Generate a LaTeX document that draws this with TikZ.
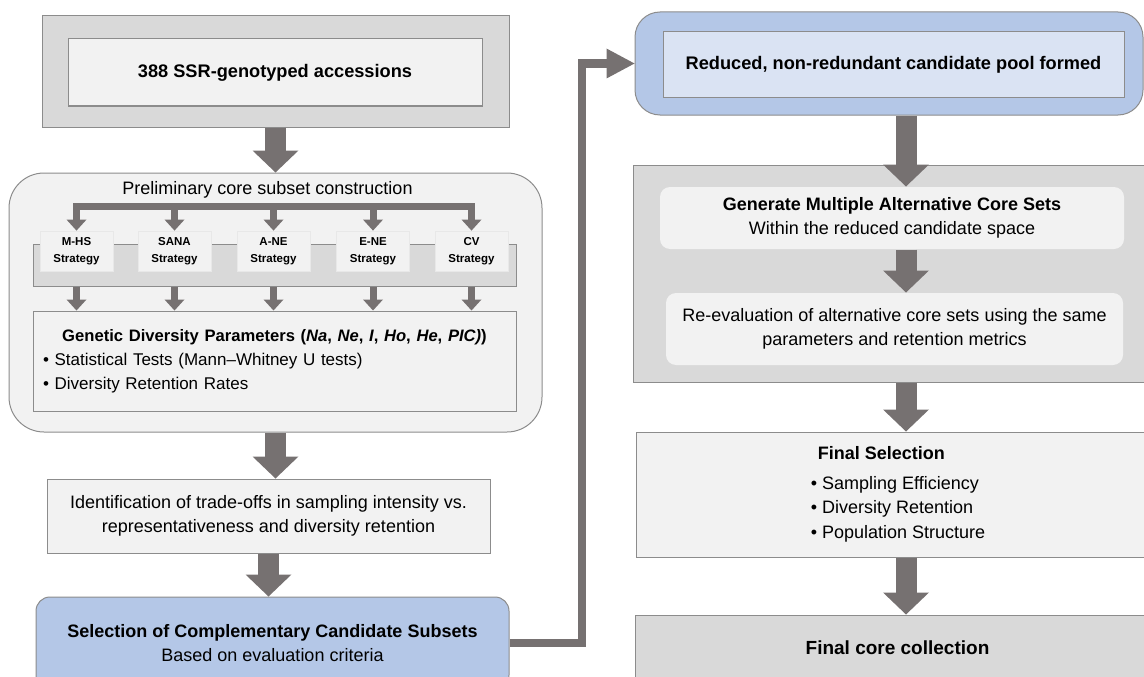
\documentclass[tikz,border=0pt]{standalone}
\usepackage{fontspec}
\setmainfont{Liberation Sans}
\usetikzlibrary{arrows.meta,calc}
\definecolor{ArrowClr}{RGB}{118,113,113}
\definecolor{ShellClr}{RGB}{217,217,217}
\definecolor{PaleClr}{RGB}{242,242,242}
\definecolor{BlueClr}{RGB}{180,199,231}
\definecolor{PaleBlueClr}{RGB}{218,227,243}
\definecolor{EdgeClr}{RGB}{140,140,140}
\newcommand{\BodyFont}{\fontsize{18pt}{24.5pt}\selectfont}
\newcommand{\ListFont}{\fontsize{17pt}{24pt}\selectfont}
\newcommand{\HeadFont}{\fontsize{18.2pt}{24.5pt}\selectfont\bfseries}
\newcommand{\TagFont}{\fontsize{11.5pt}{17pt}\selectfont\bfseries}
\tikzset{
  flatbox/.style={draw=EdgeClr, line width=1pt, fill=PaleClr, inner sep=0pt, align=center, font=\BodyFont},
  shellbox/.style={flatbox, fill=ShellClr},
  softbox/.style={flatbox, draw=none, rounded corners=10pt},
  tagbox/.style={draw=PaleClr!60!ShellClr, line width=0.8pt, fill=PaleClr, inner sep=0pt, minimum width=73pt, minimum height=40pt, align=center, font=\TagFont},
  bigarrow/.style={draw=ArrowClr, line width=21pt, -{Triangle[width=46pt,length=22pt,line width=0pt]}},
  thinarrow/.style={draw=ArrowClr, line width=7pt, -{Triangle[width=20pt,length=11pt,line width=0pt]}},
  fork/.style={draw=ArrowClr, line width=7pt, line join=miter,
    {Triangle[width=20pt,length=11pt,line width=0pt]}-{Triangle[width=20pt,length=11pt,line width=0pt]}},
  loopline/.style={draw=ArrowClr, line width=8.5pt, line join=miter, -{Triangle[width=30pt,length=28pt,line width=0pt]}}
}

\begin{document}
\begin{tikzpicture}[x=1pt,y=-1pt]
\useasboundingbox (0,0) rectangle (1144,677);
\clip (0,0) rectangle (1144,677);
% left column
\node[shellbox, minimum width=467pt, minimum height=111pt] (seedshell) at (275.5,71.5) {};
\node[flatbox, minimum width=414pt, minimum height=67pt, font=\HeadFont] (seed) at (275,72.5) {388 SSR-genotyped accessions};
\node[flatbox, rounded corners=35pt, minimum width=533pt, minimum height=259pt] (prelim) at (275.5,302.5) {};
\node[font=\BodyFont, inner sep=0pt] (prelimtitle) at (267.5,190) {Preliminary core subset construction};
\node[shellbox, minimum width=483pt, minimum height=42pt] (band) at (274.5,265) {};
\foreach \name/\tag/\x in {mhs/M-HS/76.5, sana/SANA/174.5, ane/A-NE/273.5, ene/E-NE/373, cv/CV/471.5}
  \node[tagbox] (\name) at (\x,251) {\tag\\Strategy};
\node[flatbox, minimum width=483pt, minimum height=100pt, text width=463pt, align=left, font=\ListFont] (params) at (274.5,361)
  {\makebox[463pt]{\fontsize{16.6pt}{24pt}\selectfont\bfseries Genetic Diversity Parameters (\textit{Na}, \textit{Ne}, \textit{I}, \textit{Ho}, \textit{He}, \textit{PIC)})}\\
   \textbullet{} Statistical Tests (Mann--Whitney U tests)\\
   \textbullet{} Diversity Retention Rates};
\coordinate (bar) at (0,206);
\draw[fork] (mhs.north) -- (mhs.north |- bar) -- (cv.north |- bar) -- (cv.north);
\foreach \name in {sana,ane,ene}
  \draw[thinarrow] (\name.north |- bar) -- (\name.north);
\foreach \name in {mhs,sana,ane,ene,cv}
  \draw[thinarrow] (\name.north |- band.south) -- (\name.north |- params.north);
\node[flatbox, minimum width=443pt, minimum height=74pt] (tradeoff) at (268.5,516)
  {Identification of trade-offs in sampling intensity vs.\\representativeness and diversity retention};
\node[flatbox, fill=BlueClr, rounded corners=14pt, minimum width=473pt, minimum height=92pt] (select) at (272.5,643)
  {\textbf{Selection of Complementary Candidate Subsets}\\Based on evaluation criteria};
\draw[bigarrow] (seedshell.south) -- (seedshell.south |- prelim.north);
\draw[bigarrow] (prelim.south) -- (prelim.south |- tradeoff.north);
\draw[bigarrow] (tradeoff.south) -- (tradeoff.south |- select.north);
% right column
\node[flatbox, fill=BlueClr, rounded corners=25pt, minimum width=508pt, minimum height=103pt] (pool) at (889,63.5) {};
\node[flatbox, fill=PaleBlueClr, minimum width=461pt, minimum height=66pt, font=\HeadFont] (poolin) at (893.5,65) {Reduced, non-redundant candidate pool formed};
\node[shellbox, minimum width=527pt, minimum height=217pt] (alt) at (896.5,273.5) {};
\node[softbox, minimum width=464pt, minimum height=62pt] (gen) at (892,218)
  {\textbf{Generate Multiple Alternative Core Sets}\\Within the reduced candidate space};
\node[softbox, minimum width=457pt, minimum height=72pt] (reeval) at (894.5,329)
  {Re-evaluation of alternative core sets using the same\\parameters and retention metrics};
\node[flatbox, minimum width=524pt, minimum height=125pt, align=left] (finalsel) at (898,494.5)
  {\hspace*{7pt}\textbf{Final Selection}\\[5pt]
   \textbullet{} Sampling Efficiency\\
   \textbullet{} Diversity Retention\\
   \textbullet{} Population Structure};
\node[shellbox, minimum width=525pt, minimum height=70pt] (core) at (897.5,650) {\raisebox{5pt}{\fontsize{19pt}{24pt}\selectfont\bfseries Final core collection}};
\coordinate (spine) at (906,0);
\draw[bigarrow] (spine |- pool.south) -- (spine |- gen.north);
\draw[bigarrow] (spine |- gen.south) -- (spine |- reeval.north);
\draw[bigarrow] (spine |- alt.south) -- (spine |- finalsel.north);
\draw[bigarrow] (spine |- finalsel.south) -- (spine |- core.north);
\coordinate (turn) at (582,0);
\draw[loopline] (select.east) -- (select.east -| turn) -- (turn |- pool.west) -- (pool.west);
\end{tikzpicture}
\end{document}
